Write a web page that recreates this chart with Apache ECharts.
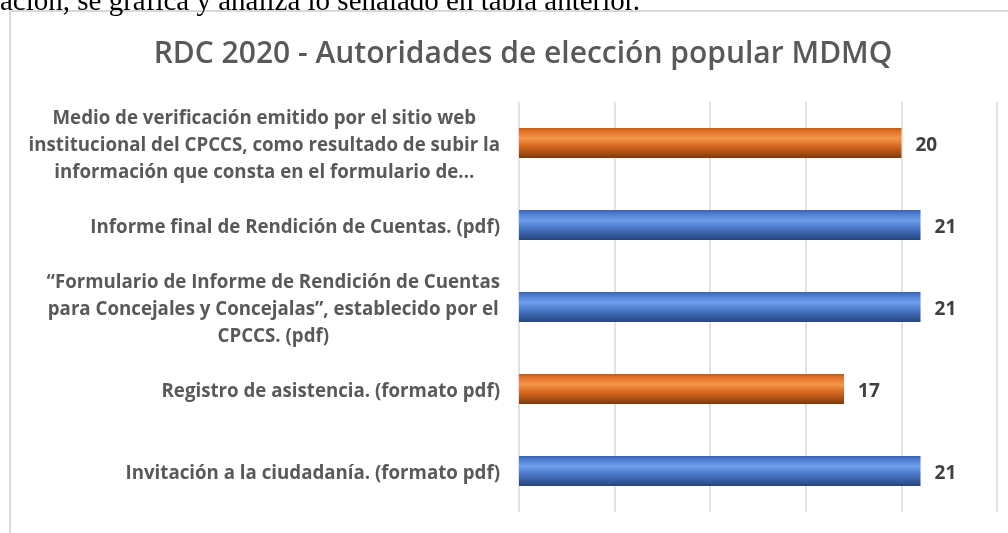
<!DOCTYPE html>
<html>
<head>
<meta charset="utf-8">
<script src="https://cdn.jsdelivr.net/npm/echarts@6/dist/echarts.min.js"></script>
<style>html,body{margin:0;padding:0;background:#fff;}#c{width:1008px;height:533px;}</style>
</head>
<body>
<div id="c"></div>
<script>
// ---- data ----
const categories = [
  "Medio de verificación emitido por el sitio web\ninstitucional del CPCCS, como resultado de subir la\ninformación que consta en el formulario de...",
  "Informe final de Rendición de Cuentas. (pdf)",
  "“Formulario de Informe de Rendición de Cuentas\npara Concejales y Concejalas”, establecido por el\nCPCCS. (pdf)",
  "Registro de asistencia. (formato pdf)",
  "Invitación a la ciudadanía. (formato pdf)"
];
const values = [20, 21, 21, 17, 21];
const titleText = "RDC 2020 - Autoridades de elección popular MDMQ";
const pageText = "ación, se grafica y analiza lo señalado en tabla anterior.";

// ---- styles ----
const barColorKind = ['orange', 'blue', 'blue', 'orange', 'blue'];
const gradients = {
  orange: [
    [0, '#C55A11'], [0.12, '#E2732A'], [0.35, '#F5954A'], [0.6, '#D8691F'], [0.85, '#A34C12'], [1, '#7A390D']
  ],
  blue: [
    [0, '#3A62AE'], [0.12, '#4C7CCF'], [0.35, '#6E9EEC'], [0.6, '#4A77C8'], [0.85, '#34589A'], [1, '#27467C']
  ]
};
function grad(kind) {
  return new echarts.graphic.LinearGradient(0, 0, 0, 1,
    gradients[kind].map(s => ({ offset: s[0], color: s[1] })));
}
const labelFont = '"Open Sans", sans-serif';

const chart = echarts.init(document.getElementById('c'), null, { renderer: 'canvas' });
chart.setOption({
  animation: false,
  backgroundColor: '#fff',
  title: {
    text: titleText,
    left: 518,
    top: 34,
    textAlign: 'center',
    textStyle: { fontFamily: labelFont, fontSize: 30, fontWeight: 600, color: '#595959' }
  },
  grid: { left: 519, right: 11, top: 102, bottom: 21, containLabel: false },
  xAxis: {
    type: 'value', min: 0, max: 25, interval: 5,
    axisLabel: { show: false }, axisLine: { show: false }, axisTick: { show: false },
    splitLine: { show: true, lineStyle: { color: '#D9D9D9', width: 1.5 } }
  },
  yAxis: {
    type: 'category', inverse: true, data: categories,
    axisLine: { show: false }, axisTick: { show: false },
    axisLabel: {
      margin: 19, align: 'right', padding: [5, 0, 0, 0],
      formatter: v => v.split('\n').map(l => '{c|' + l + '}').join('\n'),
      rich: { c: { align: 'center', fontFamily: labelFont, fontSize: 18.7, fontWeight: 700, color: '#595959', lineHeight: 27 } }
    }
  },
  series: [{
    type: 'bar', barWidth: 30,
    data: values.map((v, i) => ({ value: v, itemStyle: { color: grad(barColorKind[i]) } })),
    label: {
      show: true, position: 'right', distance: 14, offset: [0, 3],
      fontFamily: labelFont, fontSize: 19, fontWeight: 700, color: '#404040'
    }
  }],
  graphic: [
    { type: 'rect', shape: { x: 10, y: 11, width: 1100, height: 600 }, style: { fill: 'none', stroke: '#D9D9D9', lineWidth: 2 }, z: -1 },
    { type: 'text', x: 0, y: 17, style: { text: pageText, font: '29px "Liberation Serif", serif', fill: '#000', verticalAlign: 'bottom' } }
  ]
});
</script>
</body>
</html>
